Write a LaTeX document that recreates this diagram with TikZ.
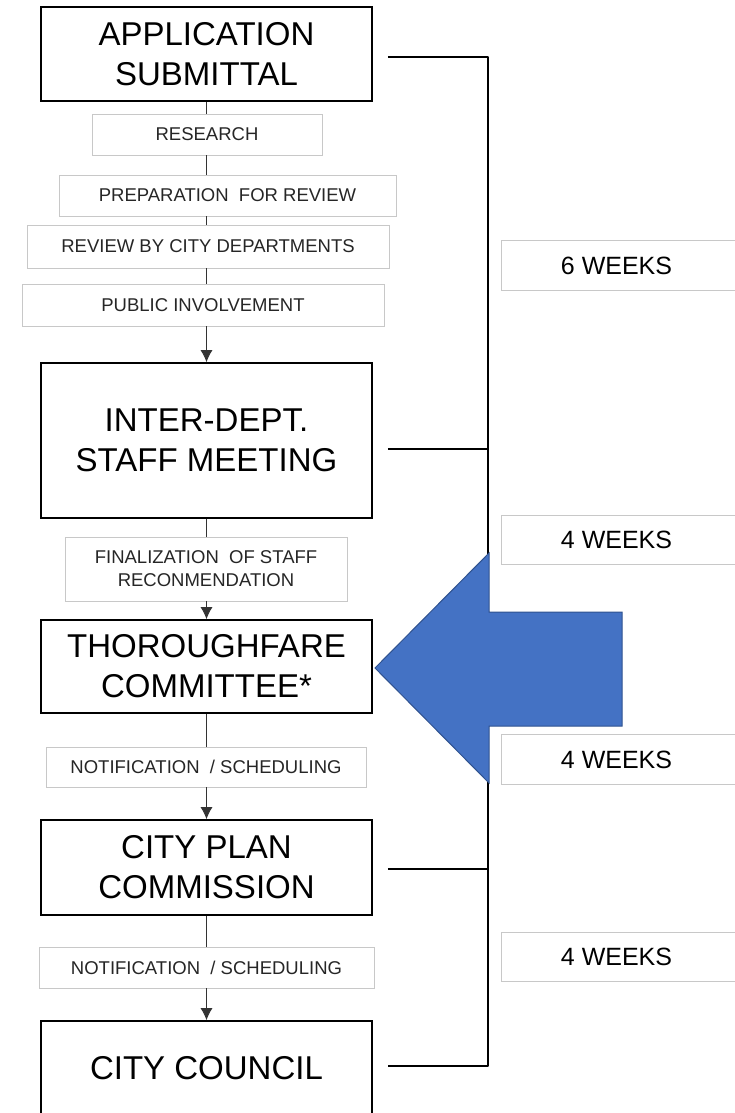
\documentclass[tikz,border=0pt]{standalone}
\usepackage{fontspec}
\setmainfont{Liberation Sans}
\usetikzlibrary{shapes,arrows,arrows.meta}
\definecolor{arrowblue}{HTML}{4472C4}
\definecolor{arrowedge}{HTML}{2F528F}
\definecolor{boxgray}{HTML}{C8C8C8}
\definecolor{linegray}{HTML}{333333}

\begin{document}
\begin{tikzpicture}[x=1pt,y=-1pt]
		\tikzstyle {main box} = [draw, line width=1.7pt, minimum width=331pt, align=center, inner sep=0pt, font=\fontsize{33}{40}\selectfont]
		\tikzstyle {task box} = [draw=boxgray, line width=0.8pt, fill=white, align=center, inner sep=0pt, text=black!85, font=\fontsize{18.5}{23}\selectfont]
		\tikzstyle {week box} = [minimum width=229pt, minimum height=49pt, inner sep=0pt, font=\fontsize{25}{30}\selectfont]
		\tikzstyle {week edge} = [draw=boxgray, line width=0.8pt]
		\tikzstyle {flow line} = [draw=linegray, line width=0.8pt]
		\tikzstyle {flow arrow} = [flow line, -{Latex[length=12pt,width=12pt]}]
		\tikzstyle {bracket line} = [line width=2.8pt, line join=round]

		\useasboundingbox (0,0) rectangle (734,1113);

		\node[main box, minimum height=94pt] (app) at (206.5,54) {APPLICATION\\SUBMITTAL};
		\node[main box, minimum height=155pt] (inter) at (206.5,440.5) {INTER-DEPT.\\STAFF MEETING};
		\node[main box, minimum height=93pt] (thor) at (206.5,666.5) {THOROUGHFARE\\COMMITTEE*};
		\node[main box, minimum height=95pt] (cpc) at (206.5,867.5) {CITY PLAN\\COMMISSION};
		\node[main box, minimum height=95pt] (cc) at (206.5,1068.5) {CITY COUNCIL};

		\node[task box, minimum width=230pt, minimum height=41pt] (res) at (207,134.5) {RESEARCH};
		\node[task box, minimum width=337pt, minimum height=41pt] (prep) at (227.5,195.5) {PREPARATION\ \ FOR REVIEW};
		\node[task box, minimum width=362pt, minimum height=43pt] (rev) at (208,246.5) {REVIEW BY CITY DEPARTMENTS};
		\node[task box, minimum width=362pt, minimum height=42pt] (pub) at (203,305) {PUBLIC INVOLVEMENT};
		\node[task box, minimum width=282pt, minimum height=64pt] (fin) at (206,569) {FINALIZATION\ \ OF STAFF\\RECONMENDATION};
		\node[task box, minimum width=320pt, minimum height=40pt] (note1) at (206,767) {NOTIFICATION\ \ / SCHEDULING};
		\node[task box, minimum width=335pt, minimum height=41pt] (note2) at (206.5,967.5) {NOTIFICATION\ \ / SCHEDULING};

		\node[week box] (wk6) at (616.5,265.5) {6 WEEKS};
		\node[week box] (wk4a) at (616.5,540) {4 WEEKS};
		\node[week box] (wk4b) at (616.5,759.5) {4 WEEKS};
		\node[week box] (wk4c) at (616.5,957) {4 WEEKS};
		\foreach \wk in {wk6,wk4a,wk4b,wk4c}
			\draw[week edge] (\wk.north west) rectangle ([xshift=20pt]\wk.south east);

		\draw[flow line] (app.south) -- (app.south |- res.north);
		\draw[flow line] (app.south |- res.south) -- (app.south |- prep.north);
		\draw[flow line] (app.south |- prep.south) -- (app.south |- rev.north);
		\draw[flow line] (app.south |- rev.south) -- (app.south |- pub.north);
		\draw[flow arrow] (app.south |- pub.south) -- (inter.north);

		\draw[flow line] (inter.south) -- (inter.south |- fin.north);
		\draw[flow arrow] (inter.south |- fin.south) -- (thor.north);

		\draw[flow line] (thor.south) -- (thor.south |- note1.north);
		\draw[flow arrow] (thor.south |- note1.south) -- (cpc.north);

		\draw[flow line] (cpc.south) -- (cpc.south |- note2.north);
		\draw[flow arrow] (cpc.south |- note2.south) -- (cc.north);

		\coordinate (brTop) at (488,57);
		\coordinate (brBot) at (488,1066);
		\draw[bracket line] ([xshift=15pt]app.east |- brTop) -- (brTop) -- (brBot) -- ([xshift=15pt]cc.east |- brBot);
		\draw[bracket line] ([xshift=15pt]inter.east |- 0,449) -- (brTop |- 0,449);
		\draw[bracket line] ([xshift=15pt]cpc.east |- 0,869) -- (brTop |- 0,869);

		\filldraw[fill=arrowblue, draw=arrowedge, line width=1pt, line join=miter]
			(375,668) -- (489,553) -- (489,612) -- (622,612) -- (622,726) -- (489,726) -- (489,783) -- cycle;

	\end{tikzpicture}
\end{document}
